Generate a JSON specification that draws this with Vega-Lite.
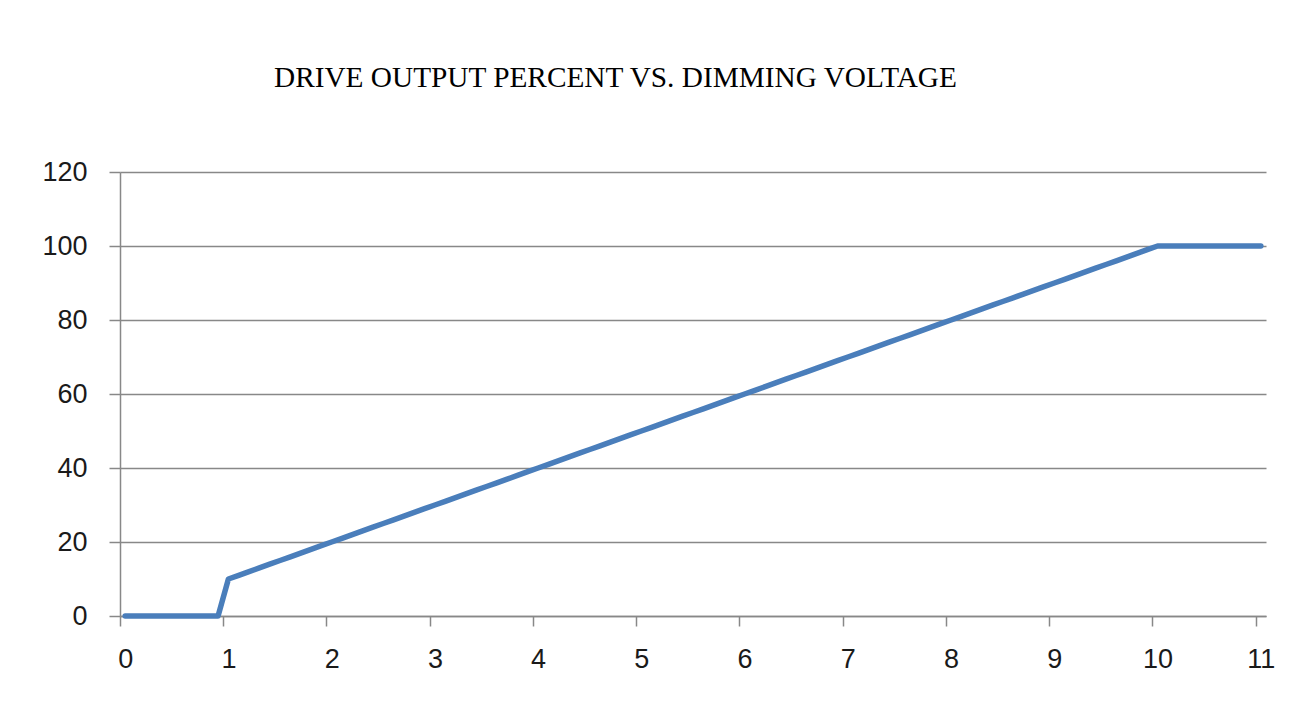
{
  "$schema": "https://vega.github.io/schema/vega-lite/v6.json",
  "autosize": "none",
  "width": 1146,
  "height": 444,
  "padding": {"left": 120, "top": 172, "right": 46, "bottom": 99},
  "background": "white",
  "title": {
    "text": "DRIVE OUTPUT PERCENT VS. DIMMING VOLTAGE",
    "anchor": "start",
    "frame": "group",
    "dx": 154,
    "offset": 42,
    "baseline": "alphabetic",
    "font": "Liberation Serif",
    "fontSize": 29.3,
    "fontWeight": "normal",
    "color": "#000000"
  },
  "data": {
    "values": [
      {"v": 0, "p": 0}, {"v": 0.1, "p": 0}, {"v": 0.2, "p": 0}, {"v": 0.3, "p": 0}, {"v": 0.4, "p": 0},
      {"v": 0.5, "p": 0}, {"v": 0.6, "p": 0}, {"v": 0.7, "p": 0}, {"v": 0.8, "p": 0}, {"v": 0.9, "p": 0},
      {"v": 1.0, "p": 10}, {"v": 1.1, "p": 11}, {"v": 1.2, "p": 12}, {"v": 1.3, "p": 13}, {"v": 1.4, "p": 14},
      {"v": 1.5, "p": 15}, {"v": 1.6, "p": 16}, {"v": 1.7, "p": 17}, {"v": 1.8, "p": 18}, {"v": 1.9, "p": 19},
      {"v": 2.0, "p": 20}, {"v": 2.1, "p": 21}, {"v": 2.2, "p": 22}, {"v": 2.3, "p": 23}, {"v": 2.4, "p": 24},
      {"v": 2.5, "p": 25}, {"v": 2.6, "p": 26}, {"v": 2.7, "p": 27}, {"v": 2.8, "p": 28}, {"v": 2.9, "p": 29},
      {"v": 3.0, "p": 30}, {"v": 3.1, "p": 31}, {"v": 3.2, "p": 32}, {"v": 3.3, "p": 33}, {"v": 3.4, "p": 34},
      {"v": 3.5, "p": 35}, {"v": 3.6, "p": 36}, {"v": 3.7, "p": 37}, {"v": 3.8, "p": 38}, {"v": 3.9, "p": 39},
      {"v": 4.0, "p": 40}, {"v": 4.1, "p": 41}, {"v": 4.2, "p": 42}, {"v": 4.3, "p": 43}, {"v": 4.4, "p": 44},
      {"v": 4.5, "p": 45}, {"v": 4.6, "p": 46}, {"v": 4.7, "p": 47}, {"v": 4.8, "p": 48}, {"v": 4.9, "p": 49},
      {"v": 5.0, "p": 50}, {"v": 5.1, "p": 51}, {"v": 5.2, "p": 52}, {"v": 5.3, "p": 53}, {"v": 5.4, "p": 54},
      {"v": 5.5, "p": 55}, {"v": 5.6, "p": 56}, {"v": 5.7, "p": 57}, {"v": 5.8, "p": 58}, {"v": 5.9, "p": 59},
      {"v": 6.0, "p": 60}, {"v": 6.1, "p": 61}, {"v": 6.2, "p": 62}, {"v": 6.3, "p": 63}, {"v": 6.4, "p": 64},
      {"v": 6.5, "p": 65}, {"v": 6.6, "p": 66}, {"v": 6.7, "p": 67}, {"v": 6.8, "p": 68}, {"v": 6.9, "p": 69},
      {"v": 7.0, "p": 70}, {"v": 7.1, "p": 71}, {"v": 7.2, "p": 72}, {"v": 7.3, "p": 73}, {"v": 7.4, "p": 74},
      {"v": 7.5, "p": 75}, {"v": 7.6, "p": 76}, {"v": 7.7, "p": 77}, {"v": 7.8, "p": 78}, {"v": 7.9, "p": 79},
      {"v": 8.0, "p": 80}, {"v": 8.1, "p": 81}, {"v": 8.2, "p": 82}, {"v": 8.3, "p": 83}, {"v": 8.4, "p": 84},
      {"v": 8.5, "p": 85}, {"v": 8.6, "p": 86}, {"v": 8.7, "p": 87}, {"v": 8.8, "p": 88}, {"v": 8.9, "p": 89},
      {"v": 9.0, "p": 90}, {"v": 9.1, "p": 91}, {"v": 9.2, "p": 92}, {"v": 9.3, "p": 93}, {"v": 9.4, "p": 94},
      {"v": 9.5, "p": 95}, {"v": 9.6, "p": 96}, {"v": 9.7, "p": 97}, {"v": 9.8, "p": 98}, {"v": 9.9, "p": 99},
      {"v": 10.0, "p": 100}, {"v": 10.1, "p": 100}, {"v": 10.2, "p": 100}, {"v": 10.3, "p": 100}, {"v": 10.4, "p": 100},
      {"v": 10.5, "p": 100}, {"v": 10.6, "p": 100}, {"v": 10.7, "p": 100}, {"v": 10.8, "p": 100}, {"v": 10.9, "p": 100},
      {"v": 11.0, "p": 100}
    ]
  },
  "mark": {"type": "line", "color": "#4A7EBB", "strokeWidth": 5.5, "strokeCap": "round", "strokeJoin": "round"},
  "encoding": {
    "x": {
      "field": "v",
      "type": "quantitative",
      "scale": {"domain": [-0.05, 11.05], "nice": false, "zero": false},
      "axis": {
        "title": null,
        "values": [0, 1, 2, 3, 4, 5, 6, 7, 8, 9, 10, 11],
        "grid": false,
        "tickOffset": -5.16,
        "labelOffset": 5.16,
        "tickSize": 10,
        "tickColor": "#888888",
        "tickWidth": 1.5,
        "domainColor": "#888888",
        "domainWidth": 1.5,
        "labelPadding": 20,
        "labelFont": "Liberation Sans",
        "labelFontSize": 27,
        "labelColor": "#1a1a1a",
        "labelFlush": false,
        "labelOverlap": false
      }
    },
    "y": {
      "field": "p",
      "type": "quantitative",
      "scale": {"domain": [0, 120], "nice": false},
      "axis": {
        "title": null,
        "values": [0, 20, 40, 60, 80, 100, 120],
        "grid": true,
        "gridColor": "#888888",
        "gridWidth": 1.5,
        "tickSize": 11,
        "tickColor": "#888888",
        "tickWidth": 1.5,
        "domainColor": "#888888",
        "domainWidth": 1.5,
        "labelPadding": 22,
        "labelFont": "Liberation Sans",
        "labelFontSize": 27,
        "labelColor": "#1a1a1a",
        "labelFlush": false,
        "labelOverlap": false
      }
    }
  },
  "config": {"view": {"stroke": null}}
}
